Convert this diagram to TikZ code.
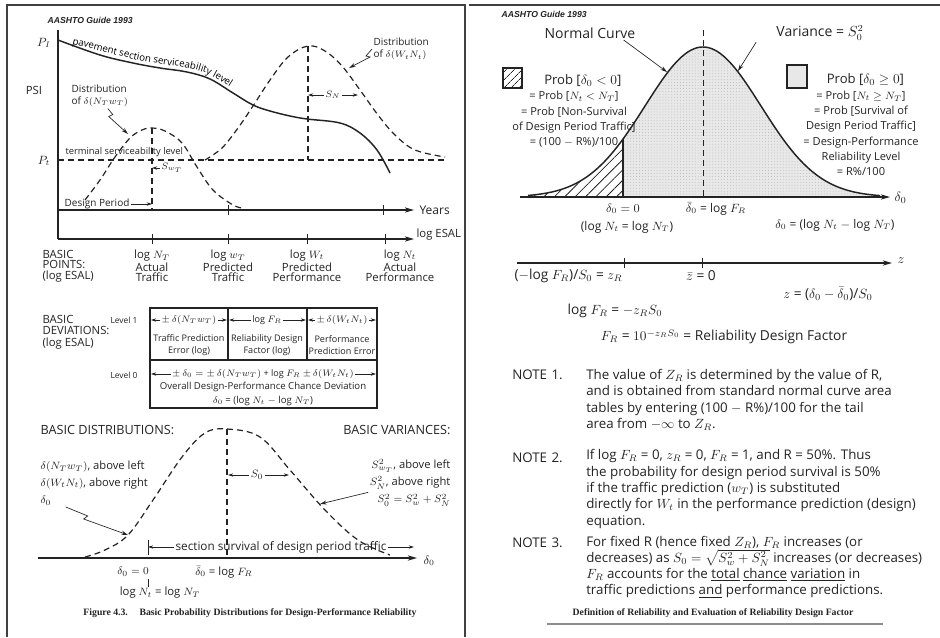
\documentclass[tikz,border=0pt]{standalone}
\usepackage{amsmath,amssymb}
\usepackage{fontspec}
\setmainfont{Open Sans}
\newfontfamily\headfont{Liberation Sans}
\newfontfamily\capfont{Liberation Serif}
\usetikzlibrary{arrows.meta, patterns.meta, decorations.text, positioning}
\definecolor{inkgray}{RGB}{35,35,35}
\definecolor{stipplegray}{RGB}{232,232,232}

\begin{document}
\begin{tikzpicture}[
    x=0.75pt, y=-0.75pt,
    every node/.style={inner sep=1pt, text=inkgray},
    hdr/.style={font=\headfont\bfseries\itshape\fontsize{6.5}{7}\selectfont},
    capt/.style={font=\capfont\bfseries\fontsize{7.3}{8}\selectfont},
    lbl/.style={font=\fontsize{7.5}{7.6}\selectfont, align=center},
    pts/.style={font=\fontsize{8.5}{7.9}\selectfont, align=center},
    tbl/.style={font=\fontsize{6.8}{9.5}\selectfont, align=center},
    leg/.style={font=\fontsize{8.3}{11.5}\selectfont, align=center},
    eqn/.style={font=\fontsize{10.3}{12}\selectfont},
    note/.style={font=\fontsize{10}{12.2}\selectfont, align=left, inner sep=0pt},
    axisarr/.style={draw=inkgray, line width=0.9pt, -{Stealth[length=7pt,width=4pt]}},
    dimarr/.style={draw=inkgray, line width=0.5pt, -{Stealth[length=4pt,width=2.5pt]}},
    squig/.style={draw=inkgray, line width=0.5pt, -{Stealth[length=5pt,width=3pt]}},
    solidcurve/.style={draw=inkgray, line width=1.1pt},
    dashcurve/.style={draw=inkgray, line width=0.9pt, dash pattern=on 4.5pt off 3pt},
    tickmark/.style={draw=inkgray, line width=0.6pt},
    panelframe/.style={draw=black!75, line width=1.2pt}
]
    \useasboundingbox (0,0) rectangle (940,637);

    % ---------------- left sheet: Figure 4.3 ----------------
    \draw[panelframe] (7,637) -- (7,5) -- (465,5) -- (465,637);
    \node[hdr, anchor=west] (hdrL) at (46,20) {AASHTO Guide 1993};

    % serviceability plot
    \draw[draw=inkgray, line width=0.8pt] (58,30) -- (58,239);
    \draw[axisarr] (58,210) -- (414,210);
    \draw[axisarr] (58,239) -- (414,239);
    \node[lbl, anchor=west, font=\fontsize{9}{10}\selectfont] (years) at (418,210) {Years};
    \node[lbl, anchor=west, font=\fontsize{8.5}{9}\selectfont] (esal) at (415,235) {log ESAL};
    \foreach \tx in {228,383} \draw[tickmark] (\tx,205) -- (\tx,215);
    \foreach \tx in {152,228,307,385} \draw[tickmark] (\tx,234) -- (\tx,244);

    \node[lbl, font=\fontsize{9}{10}\selectfont] (pI) at (44,43) {$P_I$};
    \node[lbl, font=\fontsize{8.5}{10}\selectfont] (psi) at (34,90) {PSI};
    \node[lbl, font=\fontsize{9}{10}\selectfont] (pt) at (44,161) {$P_t$};

    \draw[solidcurve] plot[smooth, tension=0.6] coordinates {(58,40) (100,55) (133,63) (160,68) (187,72) (210,79) (233,93) (253,105) (270,111) (290,116) (307,119) (340,123) (360,133) (377,150) (390,173)};
    \path[decorate, decoration={text along path, text align=left,
        text={|\fontsize{7.3}{8}\selectfont|pavement section serviceability level}}]
        plot[smooth, tension=0.6] coordinates {(72,44) (100,51) (133,59) (160,64) (187,68) (210,75) (233,89) (253,101) (275,108)};

    \draw[dashcurve] (58,160) -- (447,160);
    \node[lbl, anchor=west, font=\fontsize{7}{8}\selectfont] (term) at (64,152) {terminal serviceability level};

    \draw[dashcurve] plot[smooth, tension=0.6] coordinates {(85,200) (100,180) (115,157) (130,138) (142,130) (152,128) (165,131) (182,143) (197,167) (213,190) (233,205) (243,208)};
    \draw[dashcurve] plot[smooth, tension=0.6] coordinates {(205,160) (222,148) (238,128) (253,106) (270,80) (288,57) (308,46) (325,51) (342,66) (360,90) (378,115) (395,135) (415,150) (445,157)};
    \draw[dashcurve] (152,128) -- (152,210);
    \draw[dashcurve] (308,46) -- (308,160);

    \node[lbl, anchor=west, align=left, font=\fontsize{7.5}{9}\selectfont] (distL) at (70,96) {Distribution\\of $\delta(N_T w_T)$};
    \coordinate (cL) at (128,134);
    \draw[squig] ([xshift=6pt]distL.south) -- ++(5,6) -- ++(-4,2) -- (cL);

    \node[lbl, anchor=west, align=left, font=\fontsize{7.5}{9.5}\selectfont] (distR) at (372,49) {Distribution\\of $\delta(W_t N_t)$};
    \coordinate (cR) at (349,68);
    \draw[squig] (distR.west) -- ++(-6,7) -- ++(4,1) -- (cR);

    \node[lbl] (sN) at (333,95) {$S_N$};
    \draw[dimarr] (sN) -- (308,95);
    \draw[dimarr] (sN) -- (358,95);
    \node[lbl] (sW) at (172,168) {$S_{w_T}$};
    \draw[dimarr] (sW) -- (152,168);

    \node[lbl, anchor=west] (dp) at (63,204) {Design Period};
    \draw[dimarr] (dp) -- (152,204);

    % basic points
    \node[pts, anchor=west, align=left] (bpts) at (41,266) {BASIC\\POINTS:\\(log ESAL)};
    \node[pts] (pNT) at (152,266) {log $N_T$\\Actual\\Traffic};
    \node[pts] (pwT) at (228,266) {log $w_T$\\Predicted\\Traffic};
    \node[pts] (pWt) at (307,266) {log $W_t$\\Predicted\\Performance};
    \node[pts] (pNt) at (400,266) {log $N_t$\\Actual\\Performance};

    % basic deviations table
    \node[pts, anchor=west, align=left, font=\fontsize{8.5}{8.8}\selectfont] (bdev) at (41,332) {BASIC\\DEVIATIONS:\\(log ESAL)};
    \draw[draw=inkgray, line width=0.8pt] (150,308) rectangle (377,408);
    \draw[draw=inkgray, line width=0.8pt] (150,360) -- (377,360);
    \draw[draw=inkgray, line width=0.8pt] (228,308) -- (228,360);
    \draw[draw=inkgray, line width=0.8pt] (307,308) -- (307,360);
    \node[tbl, font=\fontsize{6.3}{7}\selectfont] (lev1) at (124,320) {Level 1};
    \node[tbl, font=\fontsize{6.3}{7}\selectfont] (lev0) at (124,375) {Level 0};

    \node[tbl] (dev1) at (189,320) {$\pm\,\delta(N_T w_T)$};
    \draw[dimarr] (dev1) -- (151,320);
    \draw[dimarr] (dev1) -- (227,320);
    \node[tbl] (dev2) at (267,320) {log $F_R$};
    \draw[dimarr] (dev2) -- (229,320);
    \draw[dimarr] (dev2) -- (306,320);
    \node[tbl] (dev3) at (342,320) {$\pm\,\delta(W_t N_t)$};
    \draw[dimarr] (dev3) -- (308,320);
    \draw[dimarr] (dev3) -- (376,320);
    \node[tbl] (txt1) at (189,345) {Traffic Prediction\\Error (log)};
    \node[tbl] (txt2) at (267,345) {Reliability Design\\Factor (log)};
    \node[tbl] (txt3) at (342,345) {Performance\\Prediction Error};

    \node[tbl] (dev0) at (263,374) {$\pm\,\delta_0 = \pm\,\delta(N_T w_T)$ + log $F_R$ $\pm\,\delta(W_t N_t)$};
    \draw[dimarr] (dev0) -- (151,374);
    \draw[dimarr] (dev0) -- (376,374);
    \node[tbl, font=\fontsize{7.2}{8}\selectfont] (txt0) at (263,387) {Overall Design-Performance Chance Deviation};
    \node[tbl, font=\fontsize{7.2}{8}\selectfont] (eq0) at (263,401) {$\delta_0$ = (log $N_t$ $-$ log $N_T$)};

    % basic distributions
    \node[lbl, anchor=west, font=\fontsize{9.5}{10}\selectfont] (bdist) at (39,430) {BASIC DISTRIBUTIONS:};
    \node[lbl, anchor=east, font=\fontsize{9.5}{10}\selectfont] (bvar) at (452,430) {BASIC VARIANCES:};

    \draw[dashcurve] plot[smooth, tension=0.6] coordinates {(85,557) (105,550) (128,535) (153,500) (182,457) (205,433) (227,429) (260,437) (290,470) (325,510) (358,540) (390,555)};
    \draw[dashcurve] (227,429) -- (227,558);
    \draw[axisarr] (38,558) -- (417,558);
    \node[lbl, anchor=west, font=\fontsize{9}{10}\selectfont] (dax) at (422,561) {$\delta_0$};

    \node[lbl, font=\fontsize{8.5}{9}\selectfont] (s0) at (257,475) {$S_0$};
    \draw[dimarr] (s0) -- (228,475);
    \draw[dimarr] (s0) -- (289,475);

    \node[lbl, anchor=west, align=left, font=\fontsize{8.4}{13}\selectfont] (lftxt) at (39,483) {$\delta(N_T w_T)$, above left\\$\delta(W_t N_t)$, above right\\$\delta_0$};
    \coordinate (cB) at (128,535);
    \draw[squig] ([xshift=20pt]lftxt.south west) -- ++(22,9) -- ++(-4,3) -- (cB);

    \node[lbl, anchor=east, align=right, font=\fontsize{8.4}{13}\selectfont] (rttxt) at (452,483) {$S^2_{w_T}$, above left\\$S^2_N$, above right\\$S^2_0 = S^2_w + S^2_N$};
    \coordinate (cV) at (320,504);
    \draw[squig] ([yshift=-7pt]rttxt.west) -- (cV);

    \draw[tickmark] (148,540) -- (148,555);
    \node[lbl, font=\fontsize{8.8}{9}\selectfont] (surv) at (281,547) {section survival of design period traffic};
    \draw[dimarr] (surv) -- (148,547);
    \draw[dimarr] (surv) -- (414,547);

    \node[lbl, font=\fontsize{8.5}{9}\selectfont] (dzero) at (133,572) {$\delta_0 = 0$};
    \draw[tickmark] (148,579) -- (148,587);
    \node[lbl, font=\fontsize{8.5}{9}\selectfont] (logeq) at (160,593) {log $N_t$ = log $N_T$};
    \node[lbl, font=\fontsize{8.5}{9}\selectfont] (dbar) at (224,572) {$\bar\delta_0$ = log $F_R$};

    \node[capt] (capL) at (250,613) {Figure 4.3.\hspace{1.2em}Basic Probability Distributions for Design-Performance Reliability};

    % ---------------- right sheet: reliability design factor ----------------
    \draw[draw=black!75, line width=1.6pt] (469,5) -- (940,5);
    \node[hdr, anchor=west] (hdrR) at (500,14) {AASHTO Guide 1993};

    \fill[stipplegray] (623,197) -- plot[domain=623:880, samples=70] (\x, {197-150*exp(0-0.5*(((\x-703)/58)^2))}) -- (880,197) -- cycle;
    \path[pattern={Dots[distance=2.2pt, radius=0.28pt]}, pattern color=black!35] (623,197) -- plot[domain=623:880, samples=70] (\x, {197-150*exp(0-0.5*(((\x-703)/58)^2))}) -- (880,197) -- cycle;
    \path[pattern={Lines[angle=45, distance=5.5pt, line width=0.6pt]}, pattern color=inkgray] (528,197) -- plot[domain=528:623, samples=40] (\x, {197-150*exp(0-0.5*(((\x-703)/58)^2))}) -- (623,197) -- cycle;
    \draw[solidcurve] plot[domain=528:880, samples=120] (\x, {197-150*exp(0-0.5*(((\x-703)/58)^2))});
    \draw[draw=inkgray, line width=0.9pt] (623,139) -- (623,197);
    \draw[dashcurve, line width=0.7pt] (703,30) -- (703,197);
    \draw[axisarr] (520,197) -- (890,197);
    \node[lbl, anchor=west, font=\fontsize{10}{11}\selectfont] (dax2) at (893,198) {$\delta_0$};

    \node[eqn, font=\fontsize{10.5}{12}\selectfont] (normc) at (590,33) {Normal Curve};
    \coordinate (cN) at (667,72);
    \draw[squig] ([xshift=-10pt]normc.south east) -- (cN);
    \node[eqn, font=\fontsize{10.5}{12}\selectfont] (varc) at (820,33) {Variance = $S_0^2$};
    \coordinate (cVar) at (738,71);
    \draw[squig] ([xshift=-14pt]varc.south west) -- (cVar);

    \draw[draw=inkgray, line width=0.8pt, pattern={Lines[angle=45, distance=4pt, line width=0.6pt]}, pattern color=inkgray] (503,68) rectangle (522,88);
    \node[leg] (legL) at (574,111) {\hspace{1.6em}{\fontsize{9.8}{11.5}\selectfont Prob [$\delta_0 < 0$]}\\= Prob [$N_t < N_T$]\\= Prob [Non-Survival\\of Design Period Traffic]\\= (100 $-$ R\%)/100};
    \draw[draw=inkgray, line width=0.8pt, fill=stipplegray] (787,65) rectangle (807,88);
    \node[leg] (legR) at (861,125) {\hspace{0.8em}{\fontsize{9.8}{11.5}\selectfont Prob [$\delta_0 \geq 0$]}\\= Prob [$N_t \geq N_T$]\\= Prob [Survival of\\Design Period Traffic]\\= Design-Performance\\Reliability Level\\= R\%/100};

    \node[lbl, font=\fontsize{9}{10}\selectfont] (lbz0) at (623,209) {$\delta_0 = 0$};
    \node[lbl, font=\fontsize{9}{10}\selectfont] (lbzeq) at (627,227) {(log $N_t$ = log $N_T$)};
    \node[lbl, font=\fontsize{9}{10}\selectfont] (lbmean) at (716,209) {$\bar\delta_0$ = log $F_R$};
    \node[lbl, font=\fontsize{9}{10}\selectfont] (lbdef) at (835,225) {$\delta_0$ = (log $N_t$ $-$ log $N_T$)};

    % z axis
    \draw[axisarr] (517,263) -- (892,263);
    \node[eqn, anchor=west] (zlab) at (896,261) {$z$};
    \foreach \tx in {624,702} \draw[tickmark] (\tx,258) -- (\tx,268);
    \node[eqn, anchor=west] (zR) at (513,276) {($-$log $F_R$)/$S_0$ = $z_R$};
    \node[eqn] (zbar) at (701,276) {$\bar z$ = 0};
    \node[eqn] (zdef) at (828,294) {$z$ = ($\delta_0 - \bar\delta_0$)/$S_0$};
    \node[eqn] (logF) at (615,311) {log $F_R$ = $-z_R S_0$};
    \node[eqn] (fR) at (724,337) {$F_R$ = $10^{-z_R S_0}$ = Reliability Design Factor};

    % notes
    \node[note, anchor=west] (n1) at (512,375) {NOTE\,\,1.};
    \node[note, anchor=west] (n1txt) at (586,400) {The value of $Z_R$ is determined by the value of R,\\and is obtained from standard normal curve area\\tables by entering (100 $-$ R\%)/100 for the tail\\area from $-\infty$ to $Z_R$.};
    \node[note, anchor=west] (n2) at (512,458) {NOTE\,\,2.};
    \node[note, anchor=west] (n2txt) at (586,489) {If log $F_R$ = 0, $z_R$ = 0, $F_R$ = 1, and R = 50\%. Thus\\the probability for design period survival is 50\%\\if the traffic prediction ($w_T$) is substituted\\directly for $W_t$ in the performance prediction (design)\\equation.};
    \node[note, anchor=west] (n3) at (512,543) {NOTE\,\,3.};
    \node[note, anchor=west] (n3txt) at (586,567) {For fixed R (hence fixed $Z_R$), $F_R$ increases (or\\decreases) as $S_0 = \sqrt{S^2_w + S^2_N}$ increases (or decreases)\\$F_R$ accounts for the \underline{total} \underline{chance} \underline{variation} in\\traffic predictions \underline{and} performance predictions.};

    \node[capt] (capR) at (713,613) {Definition of Reliability and Evaluation of Reliability Design Factor};
    \draw[draw=black!45, line width=1.2pt] (547,624) -- (883,624);
\end{tikzpicture}
\end{document}
